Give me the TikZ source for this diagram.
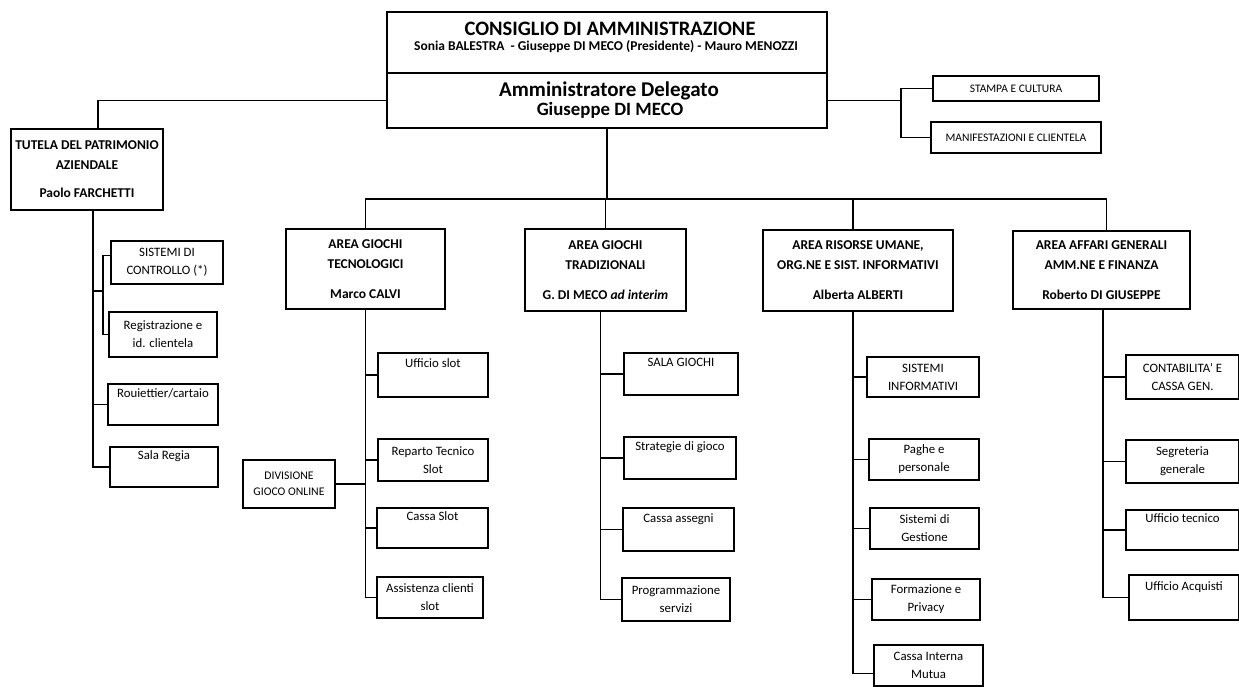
\documentclass[tikz,border=0pt]{standalone}
\usepackage{fontspec}
\setmainfont{Carlito}
\newcommand{\ob}[7]{\node[box,#6,minimum width={(#3)-(#2)},minimum height={(#5)-(#4)}] (#1) at (#2,#4) {#7};}
\begin{document}
\begin{tikzpicture}[x=1pt,y=-1pt,
  box/.style={draw,line width=2pt,inner sep=0pt,align=center,anchor=north west},
  conn/.style={line width=1.6pt},
  sub/.style={font=\fontsize{12.8}{18}\selectfont},
  subs/.style={font=\fontsize{11.7}{16}\selectfont},
  area/.style={font=\bfseries\fontsize{13.5}{20}\selectfont},
  tiny/.style={font=\fontsize{11.5}{13}\selectfont}]
\useasboundingbox[fill=white] (0,0) rectangle (1239,686);
% top
\ob{cda}{386}{826}{11}{72}{}{}
\ob{ad}{386}{826}{72}{127}{}{}
\node[font=\bfseries\fontsize{20.5}{24}\selectfont,anchor=base] (cdat) at (610,35) {CONSIGLIO DI AMMINISTRAZIONE};
\node[font=\bfseries\fontsize{13.5}{16}\selectfont,anchor=base] (cdas) at (606,50) {Sonia BALESTRA~ - Giuseppe DI MECO (Presidente) - Mauro MENOZZI};
\node[font=\bfseries\fontsize{21}{24}\selectfont,anchor=base] (adt) at (609,96) {Amministratore Delegato};
\node[font=\bfseries\fontsize{18.8}{22}\selectfont,anchor=base] (ads) at (610,115) {Giuseppe DI MECO};
\ob{stampa}{932}{1098}{75}{100}{tiny}{STAMPA E CULTURA}
\ob{manif}{930}{1100}{121}{152}{tiny}{MANIFESTAZIONI E CLIENTELA}
% left
\ob{tut}{10}{162}{128}{209}{area}{TUTELA DEL PATRIMONIO\\AZIENDALE\\[8pt]Paolo FARCHETTI}
\ob{sist}{110}{222}{240}{283}{sub}{SISTEMI DI\\CONTROLLO (*)}
\ob{reg}{108}{216}{311}{356}{sub}{Registrazione e\\id. clientela}
\ob{rou}{107}{217}{383}{424}{sub}{Rouiettier/cartaio\\\strut}
\ob{sreg}{109}{217}{446}{486}{sub}{Sala Regia\\\strut}
% areas
\ob{tecn}{285}{444}{228}{308}{area}{AREA GIOCHI\\TECNOLOGICI\\[10pt]Marco CALVI}
\ob{uslot}{377}{487}{352}{396}{sub}{Ufficio slot\\\strut}
\ob{rep}{377}{487}{438}{480}{sub}{Reparto Tecnico\\Slot}
\ob{div}{242}{334}{459}{507}{subs}{DIVISIONE\\GIOCO ONLINE}
\ob{cslot}{376}{487}{507}{547}{sub}{Cassa Slot\\\strut}
\ob{assist}{376}{482}{576}{617}{sub}{Assistenza clienti\\slot}
\ob{trad}{524}{685}{228}{310}{area}{AREA GIOCHI\\TRADIZIONALI\\[10pt]G. DI MECO \textit{ad interim}}
\ob{sala}{623}{737}{352}{394}{sub}{SALA GIOCHI\\\strut}
\ob{strat}{623}{735}{436}{478}{sub}{Strategie di gioco\\\strut}
\ob{cass}{622}{733}{507}{550}{sub}{Cassa assegni\\\strut}
\ob{prog}{621}{729}{577}{620}{sub}{Programmazione\\servizi}
\ob{ris}{762}{952}{229}{310}{area}{AREA RISORSE UMANE,\\ORG.NE E SIST. INFORMATIVI\\[10pt]Alberta ALBERTI}
\ob{sinf}{866}{978}{356}{396}{sub}{SISTEMI\\INFORMATIVI}
\ob{paghe}{868}{978}{438}{479}{sub}{Paghe e\\personale}
\ob{sges}{869}{978}{507}{548}{sub}{Sistemi di\\Gestione}
\ob{form}{871}{979}{578}{619}{sub}{Formazione e\\Privacy}
\ob{cim}{873}{982}{644}{685}{sub}{Cassa Interna\\Mutua}
\ob{aff}{1012}{1189}{230}{308}{area}{AREA AFFARI GENERALI\\AMM.NE E FINANZA\\[10pt]Roberto DI GIUSEPPE}
\ob{cont}{1125}{1238}{354}{398}{sub}{CONTABILITA' E\\CASSA GEN.}
\ob{segr}{1125}{1238}{439}{482}{sub}{Segreteria\\generale}
\ob{utec}{1125}{1238}{509}{549}{sub}{Ufficio tecnico\\\strut}
\ob{uacq}{1128}{1238}{574}{619}{sub}{Ufficio Acquisti\\\strut}
% connectors top
\coordinate (bus) at (604,199);
\draw[conn] (ad.south) -- (ad.south |- bus);
\draw[conn] (tecn.north) -- (tecn.north |- bus) -- ([xshift=5pt]aff.north |- bus) -- ([xshift=5pt]aff.north);
\draw[conn] (trad.north) -- (trad.north |- bus);
\draw[conn] ([xshift=-5pt]ris.north) -- ([xshift=-5pt]ris.north |- bus);
\draw[conn] (ad.west) -| ([xshift=11pt]tut.north);
\coordinate (rbx) at (901,0);
\draw[conn] (ad.east) -- (ad.east -| rbx);
\draw[conn] (stampa.west) -| (rbx |- manif.west) -- (manif.west);
% left tree
\coordinate (lv) at ([xshift=6pt]tut.south);
\coordinate (brk) at (103,291);
\draw[conn] (lv) |- (sreg.west);
\draw[conn] (lv |- rou.west) -- (rou.west);
\draw[conn] (lv |- brk) -- (brk);
\draw[conn] ([yshift=7pt]sist.west) -| (brk |- reg.west) -- (reg.west);
% tecn
\coordinate (tv) at (tecn.south);
\draw[conn] (tv) |- (assist.west);
\draw[conn] (tv |- uslot.west) -- (uslot.west);
\draw[conn] (tv |- rep.west) -- (rep.west);
\draw[conn] (tv |- cslot.west) -- (cslot.west);
\draw[conn] (div.east) -- (div.east -| tv);
% trad
\coordinate (trv) at ([xshift=-5pt]trad.south);
\draw[conn] (trv) |- (prog.west);
\draw[conn] (trv |- sala.west) -- (sala.west);
\draw[conn] (trv |- strat.west) -- (strat.west);
\draw[conn] (trv |- cass.west) -- (cass.west);
% ris
\coordinate (rv) at ([xshift=-5pt]ris.south);
\draw[conn] (rv) |- ([yshift=-8pt]cim.west);
\draw[conn] (rv |- sinf.west) -- (sinf.west);
\draw[conn] (rv |- paghe.west) -- (paghe.west);
\draw[conn] (rv |- sges.west) -- (sges.west);
\draw[conn] (rv |- form.west) -- (form.west);
% aff
\coordinate (av) at ([xshift=1.5pt]aff.south);
\draw[conn] (av) |- (uacq.west);
\draw[conn] (av |- cont.west) -- (cont.west);
\draw[conn] (av |- segr.west) -- (segr.west);
\draw[conn] (av |- utec.west) -- (utec.west);
\end{tikzpicture}
\end{document}
